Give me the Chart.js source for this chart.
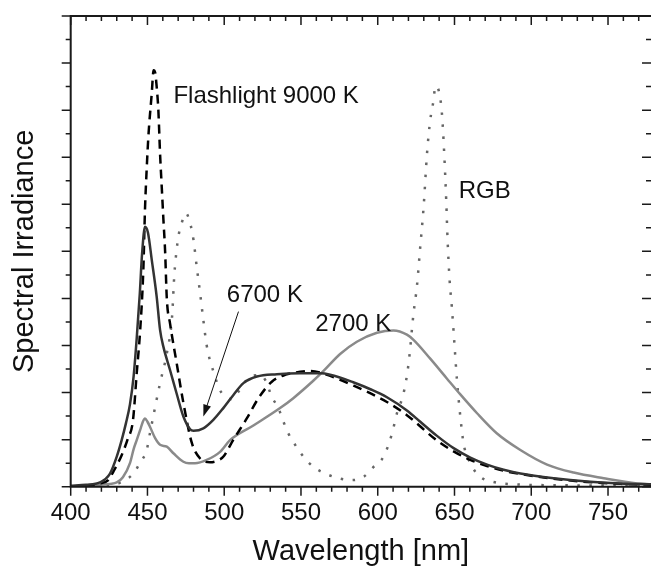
<!DOCTYPE html>
<html>
<head>
<meta charset="utf-8">
<script src="https://cdn.jsdelivr.net/npm/chart.js@4"></script>
<style>
  html, body { margin: 0; padding: 0; background: #fff; }
  canvas { display: block; }
</style>
</head>
<body>
<canvas id="spectra" width="651" height="567"></canvas>
<script>
// wavelength [nm] / irradiance (arbitrary units)
var wl6700 = [400, 410, 419, 425.6, 430, 433.2, 436, 438.6, 441, 443, 445, 446.5, 448.4, 450.3, 452.8, 456, 458.2, 460.4, 464.7, 469, 473.4, 477.8, 480, 486.4, 492.9, 499.4, 506, 512.5, 521.3, 534.3, 549.5, 562.5, 569, 584, 596, 606, 619, 627.7, 638.6, 649.4, 660.3, 671.2, 682, 692.9, 714.6, 736.4, 758, 778];
var irr6700 = [0.02, 0.04, 0.09, 0.28, 0.64, 0.99, 1.35, 1.75, 2.35, 3.15, 4.1, 4.95, 5.52, 5.4, 4.82, 4.04, 3.33, 2.97, 2.48, 1.98, 1.49, 1.22, 1.19, 1.24, 1.42, 1.67, 1.95, 2.2, 2.34, 2.39, 2.41, 2.41, 2.38, 2.22, 2.06, 1.9, 1.62, 1.38, 1.08, 0.82, 0.62, 0.47, 0.36, 0.28, 0.18, 0.11, 0.07, 0.05];

var wlFlash = [400, 410, 418, 424.5, 427.8, 433.2, 437, 440.6, 443, 445.2, 447.3, 448.4, 449.5, 450.6, 452.8, 454, 455, 456, 457.1, 458.2, 459.3, 460.4, 461.5, 462.6, 464.7, 469, 473.4, 478.9, 484.3, 490.8, 497.3, 499.5, 505.8, 514.7, 522.3, 531, 540, 549.5, 556, 565, 584, 606, 619, 638.6, 649.4, 660.3, 671.2, 682, 692.9, 714.6, 736.4, 758, 778];
var irrFlash = [0.01, 0.02, 0.06, 0.14, 0.32, 0.67, 1.0, 1.42, 2.41, 3.3, 4.6, 5.9, 6.75, 7.44, 8.36, 8.85, 8.8, 8.5, 8.0, 7.08, 6.37, 5.67, 5.0, 4.0, 3.47, 2.63, 1.78, 0.93, 0.6, 0.52, 0.58, 0.64, 0.99, 1.45, 1.88, 2.23, 2.38, 2.44, 2.46, 2.4, 2.15, 1.8, 1.52, 0.98, 0.75, 0.57, 0.44, 0.34, 0.27, 0.17, 0.1, 0.06, 0.04];

var wl2700 = [400, 410, 418, 425.7, 430, 434, 438.6, 441, 443, 445.2, 447, 448.4, 450, 451.7, 455, 458.2, 462.6, 466.9, 473.4, 477, 481, 488.6, 497.3, 503.8, 519, 536.4, 545, 558, 564.7, 575.5, 586.4, 599.5, 610.3, 619, 623.3, 634.2, 645, 653.8, 664.7, 677.7, 692.9, 710.3, 727.6, 747.2, 769, 778];
var irr2700 = [0.01, 0.02, 0.04, 0.06, 0.09, 0.2, 0.5, 0.8, 0.99, 1.2, 1.38, 1.45, 1.38, 1.27, 1.03, 0.89, 0.85, 0.71, 0.53, 0.5, 0.5, 0.57, 0.74, 0.99, 1.3, 1.67, 1.88, 2.25, 2.46, 2.82, 3.08, 3.27, 3.32, 3.23, 3.12, 2.72, 2.3, 1.96, 1.56, 1.13, 0.78, 0.47, 0.3, 0.18, 0.07, 0.05];

var wlRGB = [400, 420, 428, 433.2, 440.8, 445.2, 449.5, 451.7, 458.2, 462.6, 466, 467.5, 469, 470.1, 472.3, 475, 478.4, 480, 482.1, 483.2, 484.3, 486.4, 488.6, 493, 497.3, 499.5, 504.9, 510, 516.9, 523.4, 527, 531, 535.3, 538.6, 541.8, 546.2, 551.6, 558.2, 565.8, 574.5, 583.2, 590.8, 597.3, 603.8, 609.3, 612.5, 616.8, 620.1, 623.3, 625.5, 627.7, 629.9, 632.1, 634.2, 636.4, 637.5, 639.6, 641.8, 643.3, 644.6, 645.5, 646.8, 648.3, 649.4, 651.6, 653.8, 655.9, 660.3, 666.8, 675.5, 690, 720, 778];
var irrRGB = [0, 0.01, 0.04, 0.1, 0.28, 0.51, 0.78, 1.15, 2.2, 2.83, 3.6, 4.5, 5.03, 5.31, 5.6, 5.81, 5.52, 5.24, 4.67, 4.39, 4.11, 3.54, 3.0, 2.44, 2.05, 1.95, 1.86, 2.05, 2.34, 2.37, 2.25, 1.91, 1.67, 1.38, 1.13, 0.89, 0.64, 0.42, 0.28, 0.18, 0.14, 0.21, 0.42, 0.64, 1.13, 1.56, 1.98, 2.62, 3.68, 4.25, 5.1, 5.95, 7.08, 7.79, 8.22, 8.51, 8.43, 7.93, 7.08, 6.09, 5.24, 4.4, 3.8, 3.3, 2.27, 1.49, 0.92, 0.5, 0.21, 0.1, 0.05, 0.03, 0.02];

// axis ticks
var xTickLabels = [400, 450, 500, 550, 600, 650, 700, 750];
var xMinorStep = 10;
var yMajorStep = 1;
var yMinorStep = 0.5;

// text labels on the plot (data coordinates)
var noteText = ['Flashlight 9000 K', 'RGB', '6700 K', '2700 K'];
var noteX = [466.9, 652.7, 501.7, 559.3];
var noteY = [8.15, 6.13, 3.92, 3.31];

function pts(xs, ys) {
    return xs.map(function (x, i) { return { x: x, y: ys[i] }; });
}

Chart.defaults.font.family = "'Liberation Sans', Arial, sans-serif";
Chart.defaults.color = '#111';

// frame, ticks on all four sides, labels and the arrow
var decor = {
    id: 'decor',
    afterDatasetsDraw: function (chart) {
        var ctx = chart.ctx, a = chart.chartArea;
        var x = chart.scales.x, y = chart.scales.y;
        ctx.save();
        ctx.strokeStyle = '#1a1a1a';
        ctx.lineWidth = 2;
        ctx.beginPath();
        ctx.moveTo(a.right + 2, a.top);
        ctx.lineTo(a.left, a.top);
        ctx.lineTo(a.left, a.bottom);
        ctx.lineTo(a.right + 2, a.bottom);
        ctx.stroke();

        ctx.lineWidth = 1.5;
        ctx.beginPath();
        for (var v = x.min; v <= x.max; v += xMinorStep) {
            var px = x.getPixelForValue(v);
            var len = v % 50 === 0 ? 9 : 5;
            ctx.moveTo(px, a.bottom); ctx.lineTo(px, a.bottom + len);
            ctx.moveTo(px, a.top); ctx.lineTo(px, a.top + len);
        }
        for (var w = y.min; w <= y.max + 0.001; w += yMinorStep) {
            var py = y.getPixelForValue(w);
            var l2 = Math.abs(w % yMajorStep) < 0.001 ? 9 : 5;
            ctx.moveTo(a.left, py); ctx.lineTo(a.left - l2, py);
            ctx.moveTo(a.right, py); ctx.lineTo(a.right - l2, py);
        }
        ctx.stroke();

        ctx.fillStyle = '#111';
        ctx.font = "24px 'Liberation Sans', Arial, sans-serif";
        ctx.textAlign = 'left';
        ctx.textBaseline = 'alphabetic';
        noteText.forEach(function (t, i) {
            ctx.fillText(t, x.getPixelForValue(noteX[i]), y.getPixelForValue(noteY[i]));
        });

        // arrow pointing to the 6700 K curve
        var x0 = x.getPixelForValue(509.3), y0 = y.getPixelForValue(3.72);
        var x1 = x.getPixelForValue(486.4), y1 = y.getPixelForValue(1.49);
        var ang = Math.atan2(y1 - y0, x1 - x0);
        ctx.strokeStyle = '#111';
        ctx.lineWidth = 1;
        ctx.beginPath();
        ctx.moveTo(x0, y0);
        ctx.lineTo(x1 - 9 * Math.cos(ang), y1 - 9 * Math.sin(ang));
        ctx.stroke();
        ctx.beginPath();
        ctx.moveTo(x1, y1);
        ctx.lineTo(x1 - 12 * Math.cos(ang) + 4 * Math.sin(ang), y1 - 12 * Math.sin(ang) - 4 * Math.cos(ang));
        ctx.lineTo(x1 - 12 * Math.cos(ang) - 4 * Math.sin(ang), y1 - 12 * Math.sin(ang) + 4 * Math.cos(ang));
        ctx.closePath();
        ctx.fill();
        ctx.restore();
    }
};

var ctx = document.getElementById('spectra').getContext('2d');
var chart = new Chart(ctx, {
    type: 'line',
    data: {
        datasets: [{
            label: '6700 K',
            data: pts(wl6700, irr6700),
            borderColor: '#333',
            borderWidth: 2.5
        }, {
            label: 'Flashlight 9000 K',
            data: pts(wlFlash, irrFlash),
            borderColor: '#000',
            borderWidth: 2.5,
            borderDash: [9, 6]
        }, {
            label: '2700 K',
            data: pts(wl2700, irr2700),
            borderColor: '#8a8a8a',
            borderWidth: 2.5
        }, {
            label: 'RGB',
            data: pts(wlRGB, irrRGB),
            borderColor: '#666',
            borderWidth: 2.5,
            borderDash: [2.5, 9.5]
        }]
    },
    options: {
        responsive: false,
        animation: false,
        layout: { padding: { top: 16, right: 0, left: 0, bottom: 0 } },
        elements: {
            point: { radius: 0 },
            line: { cubicInterpolationMode: 'monotone', fill: false }
        },
        plugins: {
            legend: { display: false },
            tooltip: { enabled: false }
        },
        scales: {
            x: {
                type: 'linear',
                min: 400,
                max: 778,
                grid: { display: false, drawTicks: false },
                border: { display: false },
                afterBuildTicks: function (scale) {
                    scale.ticks = xTickLabels.map(function (v) { return { value: v }; });
                },
                afterFit: function (scale) { scale.height = 80.3; },
                ticks: {
                    padding: 15,
                    maxRotation: 0,
                    font: { size: 24, lineHeight: 1 },
                    color: '#111',
                    callback: function (v) { return String(v); }
                },
                title: {
                    display: true,
                    text: 'Wavelength [nm]',
                    font: { size: 29, lineHeight: 1 },
                    color: '#111',
                    padding: { top: 0, bottom: 1 }
                }
            },
            y: {
                min: 0,
                max: 10,
                grid: { display: false, drawTicks: false },
                border: { display: false },
                ticks: { display: false },
                afterFit: function (scale) { scale.width = 70.7; },
                title: {
                    display: true,
                    text: 'Spectral Irradiance',
                    font: { size: 29, lineHeight: 1 },
                    color: '#111',
                    padding: { top: 10, bottom: 0 }
                }
            }
        }
    },
    plugins: [decor]
});
</script>
</body>
</html>
